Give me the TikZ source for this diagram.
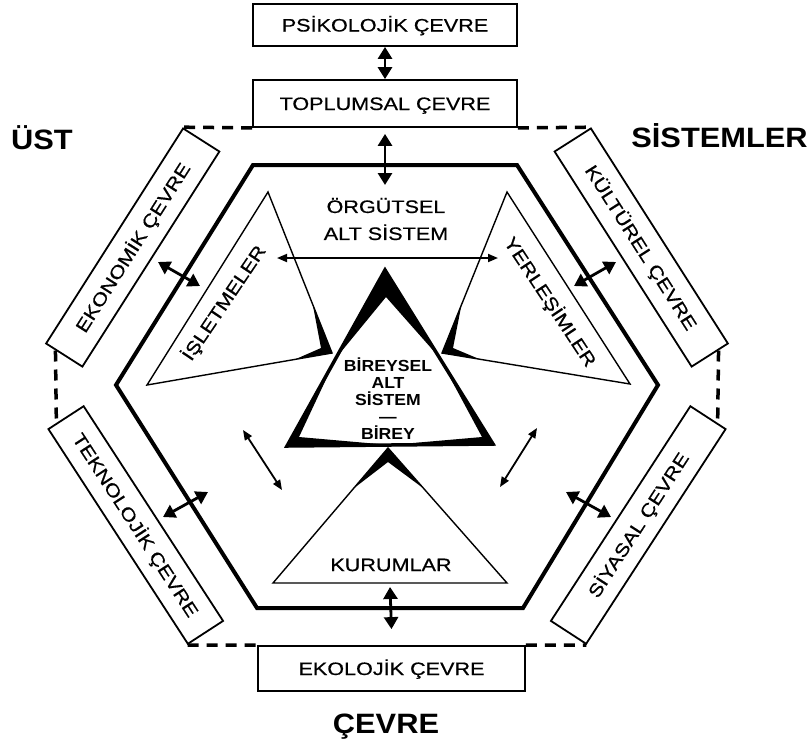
\documentclass[tikz,border=0pt]{standalone}
\usepackage{fontspec}
\setmainfont{Liberation Sans}
\newfontfamily\hfont[FakeStretch=1.2,FakeBold=0.6]{Liberation Sans}
\newfontfamily\hbfont[FakeStretch=1.1]{Liberation Sans}
\usetikzlibrary{arrows.meta,calc}
\begin{document}
\begin{tikzpicture}[x=1pt,y=-1pt,
  boxtxt/.style={font=\hfont\fontsize{18}{22}\selectfont},
  envbox/.style={draw, line width=1.8pt, rectangle, inner sep=0pt, boxtxt, text height=13pt, text depth=0pt},
  hexline/.style={line width=4pt, line join=miter},
  dashline/.style={line width=3.5pt, dash pattern=on 11pt off 8pt},
  bigarrow/.style={line width=2.8pt, arrows={Triangle[length=12pt,width=14pt]-Triangle[length=12pt,width=14pt]}},
  thinarrow/.style={line width=1.8pt, arrows={Triangle[length=10pt,width=8pt]-Triangle[length=10pt,width=8pt]}},
  triline/.style={line width=1.4pt, line join=miter},
  bigtitle/.style={font=\hbfont\bfseries\fontsize{28}{30}\selectfont, anchor=base, inner sep=0pt},
  inlabel/.style={boxtxt, inner sep=0pt},
]
\useasboundingbox (0,0) rectangle (810,748);
\fill[white] (0,0) rectangle (810,748);

% environment boxes
\node[envbox, minimum width=264pt, minimum height=42pt] (psi) at (385,25) {PSİKOLOJİK ÇEVRE};
\node[envbox, minimum width=264pt, minimum height=47pt] (topl) at (385,103.5) {TOPLUMSAL ÇEVRE};
\node[envbox, minimum width=267pt, minimum height=45pt] (ekol) at (391.5,668.5) {EKOLOJİK ÇEVRE};
\node[envbox, minimum width=255pt, minimum height=43pt, rotate=57.5] (eko) at (132.75,247.5) {EKONOMİK ÇEVRE};
\node[envbox, minimum width=256pt, minimum height=42pt, rotate=-57] (tek) at (135.75,525) {TEKNOLOJİK ÇEVRE};
\node[envbox, minimum width=255pt, minimum height=43pt, rotate=-57.5] (kul) at (641.25,247.5) {KÜLTÜREL ÇEVRE};
\node[envbox, minimum width=256pt, minimum height=42pt, rotate=57] (siy) at (638.25,525) {SİYASAL ÇEVRE};

% dashed outer system boundary
\draw[dashline] (topl.south west) -- (eko.north east);
\draw[dashline] (topl.south east) -- (kul.north west);
\draw[dashline] ($(eko.north west)!0.28!(eko.south west)$) -- ($(tek.south west)!0.25!(tek.north west)$);
\draw[dashline] ($(kul.north east)!0.28!(kul.south east)$) -- ($(siy.south east)!0.25!(siy.north east)$);
\draw[dashline] (tek.south east) -- (ekol.north west);
\draw[dashline] (ekol.north east) -- (siy.south west);

% inner hexagon
\draw[hexline] (253,165) -- (517,165) -- (658,385) -- (523,608) -- (257,608) -- (116,385) -- cycle;

% central triangle
\coordinate (cA) at (385,270); \coordinate (cB) at (287,446); \coordinate (cC) at (493,444);
\coordinate (cAi) at (386,297); \coordinate (cBi) at (299,437); \coordinate (cCi) at (482,437);
\draw[line width=3.5pt, line join=miter] (cA) -- (cB) -- (cC) -- cycle;
\fill (cA) -- ($(cA)!0.5!(cB)$) -- (cAi) -- ($(cA)!0.5!(cC)$) -- cycle;
\fill (cB) -- ($(cB)!0.5!(cA)$) -- (cBi) -- ($(cB)!0.5!(cC)$) -- cycle;
\fill (cC) -- ($(cC)!0.5!(cA)$) -- (cCi) -- ($(cC)!0.5!(cB)$) -- cycle;

% isletmeler triangle
\coordinate (iT) at (268,192); \coordinate (iB) at (147,385); \coordinate (iR) at (332,353); \coordinate (iRi) at (321,348);
\draw[triline] (iT) -- (iB) -- (iR) -- cycle;
\fill (iR) -- ($(iR)!0.3!(iT)$) -- (iRi) -- ($(iR)!0.2!(iB)$) -- cycle;

% yerlesimler triangle
\coordinate (yT) at (507,192); \coordinate (yB) at (630,384); \coordinate (yL) at (442,353); \coordinate (yLi) at (453,348);
\draw[triline] (yT) -- (yB) -- (yL) -- cycle;
\fill (yL) -- ($(yL)!0.3!(yT)$) -- (yLi) -- ($(yL)!0.2!(yB)$) -- cycle;

% kurumlar triangle
\coordinate (kA) at (388,448); \coordinate (kL) at (273,583); \coordinate (kR) at (507,583); \coordinate (kAi) at (388,462);
\draw[triline] (kA) -- (kL) -- (kR) -- cycle;
\fill (kA) -- ($(kA)!0.3!(kL)$) -- (kAi) -- ($(kA)!0.3!(kR)$) -- cycle;

% labels
\node[inlabel, align=center, font=\hfont\fontsize{18}{27}\selectfont] (org) at (386,219) {ÖRGÜTSEL\\ALT SİSTEM};
\node[inlabel, rotate=56] (isl) at (224,303) {İŞLETMELER};
\node[inlabel, rotate=-56.5] (yer) at (550,302) {YERLEŞİMLER};
\node[inlabel] (kur) at (391,565) {KURUMLAR};
\node[font=\hbfont\bfseries\fontsize{16}{17}\selectfont, align=center, inner sep=0pt] (bir) at (388,399) {BİREYSEL\\ALT\\SİSTEM\\—\\BİREY};

\node[bigtitle] (ust) at (42,149) {ÜST};
\node[bigtitle] (sis) at (719.5,147) {SİSTEMLER};
\node[bigtitle] (cev) at (386,733) {ÇEVRE};

% arrows
\coordinate (hexin) at (385,185);
\coordinate (kurA) at (390,587);
\coordinate (ekoA) at (158,262); \coordinate (ekoB) at (200,286);
\coordinate (kulA) at (616,262); \coordinate (kulB) at (574,286);
\coordinate (tekA) at (163,517); \coordinate (tekB) at (208,492);
\coordinate (siyA) at (611,517); \coordinate (siyB) at (566,492);
\coordinate (lA) at (243,430); \coordinate (lB) at (282,490);
\coordinate (rA) at (537,428); \coordinate (rB) at (500,487);
\coordinate (hL) at (277,258); \coordinate (hR) at (498,258);

\draw[bigarrow] (psi.south) -- (topl.north);
\draw[bigarrow] ([yshift=-6pt]topl.south) -- (hexin);
\draw[bigarrow] (kurA) -- ([yshift=16pt]ekol.north);
\draw[bigarrow] (ekoA) -- (ekoB);
\draw[bigarrow] (kulA) -- (kulB);
\draw[bigarrow] (tekA) -- (tekB);
\draw[bigarrow] (siyA) -- (siyB);
\draw[thinarrow] (lA) -- (lB);
\draw[thinarrow] (rA) -- (rB);
\draw[thinarrow] (hL) -- (hR);
\end{tikzpicture}
\end{document}
